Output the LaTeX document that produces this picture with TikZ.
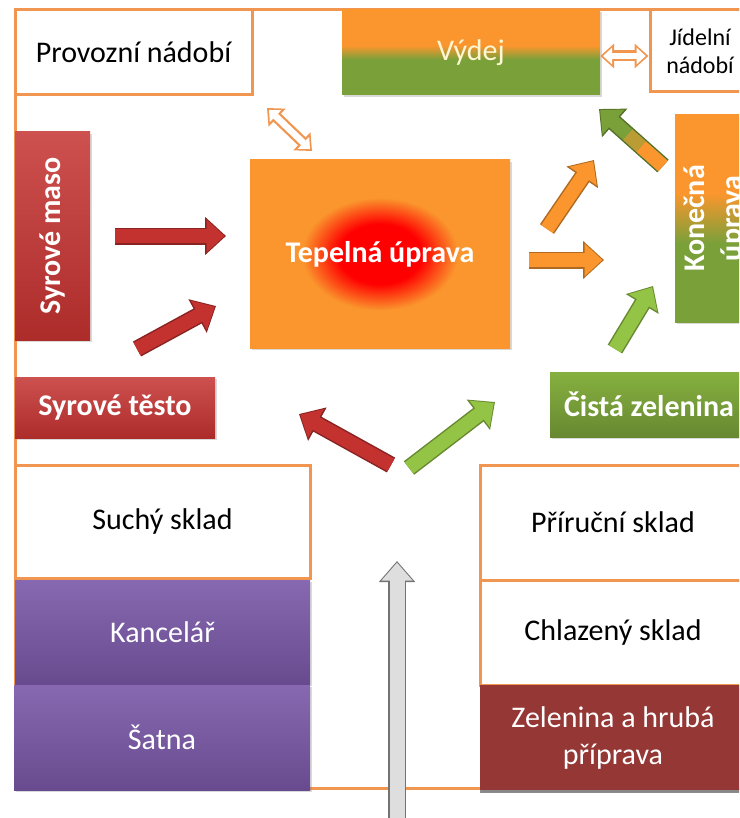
\documentclass[tikz,border=0pt]{standalone}
\usepackage{fontspec}
\usepackage{graphicx}
\setmainfont{Carlito}
\usetikzlibrary{arrows.meta,shadows,calc}

\definecolor{frameor}{RGB}{240,150,80}
\definecolor{warm}{RGB}{250,150,45}
\definecolor{rawred}{RGB}{196,50,48}
\definecolor{leaf}{RGB}{122,160,58}
\definecolor{sprout}{RGB}{148,196,70}
\definecolor{plum}{RGB}{122,88,168}
\definecolor{brick}{RGB}{149,55,53}
\definecolor{steel}{RGB}{115,115,115}
\definecolor{mist}{RGB}{222,222,222}
\definecolor{cream}{RGB}{255,246,210}

\pgfdeclareverticalshading{servecol}{100bp}{color(0bp)=(leaf); color(46bp)=(leaf); color(54bp)=(warm); color(100bp)=(warm)}
\pgfdeclareverticalshading{finalcol}{100bp}{color(0bp)=(leaf); color(44bp)=(leaf); color(56bp)=(warm); color(100bp)=(warm)}
\pgfdeclareradialshading{heat}{\pgfpoint{0bp}{0bp}}{color(0bp)=(red); color(8bp)=(red); color(15bp)=(warm); color(50bp)=(warm)}

\newcommand\roomfont{\fontsize{30}{37}\selectfont}
\newcommand\tagfont{\fontsize{30}{37}\selectfont\bfseries}

\begin{document}
\begin{tikzpicture}[
		x=1pt, y=-1pt,
		room/.style   = {draw=frameor, line width=3pt, fill=white, inner sep=0pt, font=\roomfont},
		box/.style    = {inner sep=0pt, text=white, drop shadow={opacity=.3, shadow xshift=1.5pt, shadow yshift=-2pt}},
		redbox/.style = {box, font=\tagfont, top color=rawred!85!white, bottom color=rawred!88!black},
		grnbox/.style = {box, font=\tagfont, top color=sprout!90!black, bottom color=leaf!85!black},
		purbox/.style = {box, font=\roomfont, top color=plum!90!white, bottom color=plum!85!black},
		flow/.style   = {line width=14pt, draw=#1, -{Triangle[width=32pt,length=18pt]}, shorten >=1.5pt,
			preaction={draw=#1!70!black, line width=17pt, -{Triangle[width=37pt,length=21pt]}, shorten >=0pt}},
		hollow/.style = {line width=11pt, draw=frameor, {Triangle[width=24pt,length=14pt]}-{Triangle[width=24pt,length=14pt]}},
		hole/.style   = {line width=6.5pt, draw=white, {Triangle[width=16pt,length=9pt]}-{Triangle[width=16pt,length=9pt]}, shorten <=2.8pt, shorten >=2.8pt}
		]
		\clip (0,0) rectangle (739,818);
		
		% kitchen walls
		\draw[frameor, line width=3pt] (15,10) rectangle (770,788);
		
		% rooms
		\node[room, minimum width=237pt, minimum height=85pt] (prov) at (133.5, 52.5) {Provozní nádobí};
		\node[room, minimum width=100pt, minimum height=82pt, align=center, font=\fontsize{24}{28}\selectfont] (jidel) at (700, 51) {Jídelní\\nádobí};
		\node[room, minimum width=295pt, minimum height=113pt] (such) at (162.5, 521.5) {Suchý sklad};
		\node[room, minimum width=266pt, minimum height=115pt] (prir) at (613, 522.5) {Příruční sklad};
		\node[room, minimum width=266pt, minimum height=105pt] (chlaz) at (613, 632.5) {Chlazený sklad};
		
		% coloured areas
		\node[box, shading=servecol, text=cream, font=\roomfont, minimum width=258pt, minimum height=85pt] (vydej) at (471, 52.5) {Výdej};
		\node[redbox, minimum width=75pt, minimum height=208pt] (maso) at (52.5, 236) {\rotatebox{90}{Syrové maso}};
		\node[redbox, minimum width=200pt, minimum height=61pt] (testo) at (115, 407.5) {Syrové těsto};
		\node[box, font=\tagfont, shading=heat, minimum width=260pt, minimum height=188pt] (tepel) at (380, 254) {Tepelná úprava};
		\node[box, font=\tagfont, shading=finalcol, minimum width=82pt, minimum height=207pt] (konec) at (716, 218.5)
			{\rotatebox{90}{\begin{tabular}{@{}c@{}}Konečná\\úprava\end{tabular}}};
		\node[grnbox, minimum width=198pt, minimum height=65pt] (zel) at (649, 404.5) {Čistá zelenina};
		\node[purbox, minimum width=295pt, minimum height=104pt] (kanc) at (162.5, 632) {Kancelář};
		\node[purbox, minimum width=296pt, minimum height=105pt] (satna) at (162, 737.5) {Šatna};
		\node[box, fill=brick, font=\roomfont, align=center, minimum width=266pt, minimum height=105pt,
			drop shadow={opacity=.9, shadow xshift=0pt, shadow yshift=-2.5pt}] (hruba) at (613, 737.5) {Zelenina a hrubá\\příprava};
		
		% arrow ends
		\coordinate (m1) at (115,236);   \coordinate (m2) at (226,236);
		\coordinate (t1) at (137,349);   \coordinate (t2) at (216,306);
		\coordinate (r1) at (391,465);   \coordinate (r2) at (299,414);
		\coordinate (g1) at (409,468);   \coordinate (g2) at (495,402);
		\coordinate (o1) at (529,260);   \coordinate (o2) at (604,260);
		\coordinate (d1) at (547,229);   \coordinate (d2) at (594,160);
		\coordinate (k1) at (663,166);   \coordinate (k2) at (599,109);
		\coordinate (z1) at (615,349);   \coordinate (z2) at (653,286);
		\coordinate (vent1) at (267,108); \coordinate (vent2) at (312,151);
		\coordinate (door) at (397,830); \coordinate (hall) at (397,561);
		
		% goods flow
		\draw[flow=rawred] (m1) -- (m2);
		\draw[flow=rawred] (t1) -- (t2);
		\draw[flow=rawred] (r1) -- (r2);
		\draw[flow=sprout] (g1) -- (g2);
		\draw[flow=warm] (o1) -- (o2);
		\draw[flow=warm] (d1) -- (d2);
		\draw[flow=sprout] (z1) -- (z2);
		\draw[flow=leaf] (k1) -- (k2);
		\draw[line width=14pt, warm] (k1) -- ($(k1)!0.35!(k2)$);
		\draw[line width=14pt, warm!50!leaf] ($(k1)!0.34!(k2)$) -- ($(k1)!0.55!(k2)$);
		
		% dishes and vent
		\draw[hollow] ([yshift=-3.5pt]vydej.east) -- ([yshift=-5pt]jidel.west);
		\draw[hole] ([yshift=-3.5pt]vydej.east) -- ([yshift=-5pt]jidel.west);
		\draw[hollow] (vent1) -- (vent2);
		\draw[hole] (vent1) -- (vent2);
		
		% entrance
		\draw[line width=18pt, steel, -{Triangle[width=35pt,length=21pt]}] (door) -- (hall);
		\draw[line width=15pt, mist, -{Triangle[width=30pt,length=18pt]}, shorten >=1.6pt] (door) -- (hall);
	\end{tikzpicture}
\end{document}
